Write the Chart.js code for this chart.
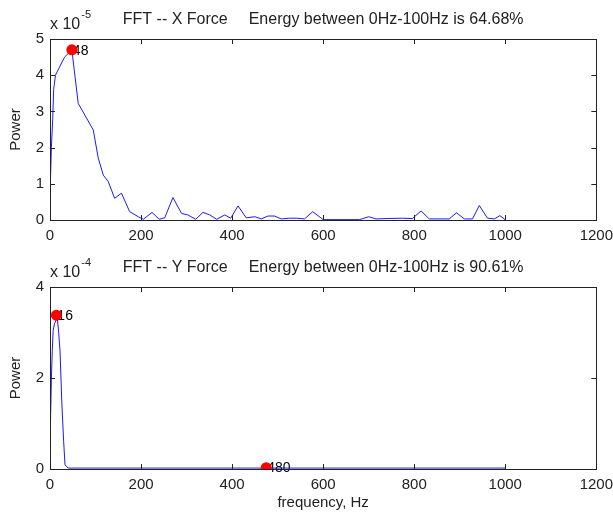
<!DOCTYPE html>
<html>
<head>
<meta charset="utf-8">
<script src="https://cdn.jsdelivr.net/npm/chart.js@4.4.1/dist/chart.umd.min.js"></script>
<style>
  html, body { margin: 0; padding: 0; background: #fff; }
  .panel { position: absolute; left: 0; width: 613px; }
</style>
</head>
<body>
<div class="panel" style="top:0; height:245px;"><canvas id="fftX" width="613" height="245"></canvas></div>
<div class="panel" style="top:245px; height:267px;"><canvas id="fftY" width="613" height="267"></canvas></div>
<script>
// X force spectrum (power in units of 1e-5)
const freqX = [0, 1, 3, 6, 8, 12, 20, 32, 48, 62, 95, 106, 117, 128, 142, 157, 175, 194, 205, 224, 240, 252, 270, 289, 303, 320, 336, 351, 366, 384, 397, 413, 431, 450, 464, 479, 493, 508, 526, 541, 559, 577, 596, 600, 680, 700, 716, 740, 774, 796, 815, 833, 877, 893, 910, 928, 943, 961, 976, 988, 998, 1000];
const powerX = [0.4, 1.1, 2.0, 2.8, 3.6, 4.0, 4.2, 4.5, 4.7, 3.22, 2.49, 1.71, 1.24, 1.06, 0.6, 0.74, 0.23, 0.09, 0.02, 0.21, 0.02, 0.06, 0.62, 0.18, 0.14, 0.02, 0.21, 0.14, 0.02, 0.14, 0.05, 0.39, 0.06, 0.09, 0.03, 0.11, 0.11, 0.03, 0.05, 0.05, 0.03, 0.23, 0.05, 0.01, 0.01, 0.09, 0.03, 0.04, 0.05, 0.04, 0.25, 0.03, 0.03, 0.2, 0.03, 0.03, 0.4, 0.05, 0.03, 0.12, 0.03, 0.0];
const peakX = [{ x: 48, y: 4.7, label: '48' }];

// Y force spectrum (power in units of 1e-4)
const freqY = [0, 1, 3, 5, 7, 10, 16, 19, 22, 26, 30, 33, 40, 200, 400, 600, 800, 1000];
const powerY = [0.35, 1.0, 1.96, 2.6, 3.05, 3.2, 3.32, 3.0, 2.6, 1.45, 0.6, 0.09, 0.02, 0.02, 0.02, 0.02, 0.02, 0.02];
const peakY = [{ x: 14, y: 3.38, label: '16' }, { x: 475, y: 0.03, label: '480' }];

const xTicks = { min: 0, max: 1200, step: 200 };
const FONT = '"Liberation Sans", Arial, sans-serif';
const INK = '#222';

// box, inward ticks, title, exponent and peak labels (MATLAB look)
const matlabFrame = {
  id: 'matlabFrame',
  beforeDatasetsDraw(chart, args, opts) {
    const ctx = chart.ctx;
    ctx.save();
    ctx.font = '14px ' + FONT;
    ctx.fillStyle = '#000';
    ctx.textAlign = 'left';
    ctx.textBaseline = 'middle';
    opts.peaks.forEach(p => {
      ctx.fillText(p.label, chart.scales.x.getPixelForValue(p.x) + 1, chart.scales.y.getPixelForValue(p.y) + 1);
    });
    ctx.restore();
  },
  afterDraw(chart, args, opts) {
    const ctx = chart.ctx;
    const a = chart.chartArea;
    const sx = chart.scales.x, sy = chart.scales.y;
    ctx.save();
    ctx.strokeStyle = INK;
    ctx.lineWidth = 1;
    ctx.beginPath();
    sx.ticks.forEach(t => {
      const px = Math.round(sx.getPixelForValue(t.value)) + 0.5;
      if (t.value === sx.min || t.value === sx.max) return;
      ctx.moveTo(px, a.bottom); ctx.lineTo(px, a.bottom - 5);
      ctx.moveTo(px, a.top); ctx.lineTo(px, a.top + 5);
    });
    sy.ticks.forEach(t => {
      const py = Math.round(sy.getPixelForValue(t.value)) + 0.5;
      if (t.value === sy.min || t.value === sy.max) return;
      ctx.moveTo(a.left, py); ctx.lineTo(a.left + 5, py);
      ctx.moveTo(a.right, py); ctx.lineTo(a.right - 5, py);
    });
    ctx.stroke();
    ctx.strokeRect(Math.round(a.left) + 0.5, Math.round(a.top) + 0.5, Math.round(a.right - a.left), Math.round(a.bottom - a.top));

    ctx.fillStyle = INK;
    ctx.font = '16px ' + FONT;
    ctx.textBaseline = 'middle';
    ctx.textAlign = 'left';
    // title in two pieces so the wide gap survives
    const w1 = ctx.measureText(opts.title[0]).width;
    const w2 = ctx.measureText(opts.title[1]).width;
    const gap = 21;
    const start = (a.left + a.right) / 2 - (w1 + gap + w2) / 2;
    ctx.fillText(opts.title[0], start, a.top - 19);
    ctx.fillText(opts.title[1], start + w1 + gap, a.top - 19);
    // exponent
    ctx.fillText('x 10', a.left, a.top - 14);
    const wx = ctx.measureText('x 10').width;
    ctx.font = '11px ' + FONT;
    ctx.fillText(opts.exponent, a.left + wx + 1, a.top - 24);
    ctx.restore();
  }
};

function makePanel(id, freq, power, peaks, yMax, yStep, title, exponent, padTop, xHeight, xTitle) {
  const ctx = document.getElementById(id).getContext('2d');
  return new Chart(ctx, {
    type: 'line',
    data: {
      datasets: [
        {
          data: peaks,
          showLine: false,
          pointRadius: 5.5,
          pointBackgroundColor: '#ff0000',
          pointBorderColor: '#ff0000',
          pointBorderWidth: 0,
          order: 0
        },
        {
          data: freq.map((f, i) => ({ x: f, y: power[i] })),
          borderColor: '#1a1aff',
          borderWidth: 1,
          pointRadius: 0,
          tension: 0,
          order: 1
        }
      ]
    },
    options: {
      responsive: false,
      animation: false,
      events: [],
      layout: { padding: { left: 0, right: 16, top: padTop, bottom: 0 } },
      scales: {
        x: {
          type: 'linear',
          min: xTicks.min,
          max: xTicks.max,
          // tick marks are drawn by the plugin; tickLength only spaces the labels
          grid: { display: false, drawTicks: true, tickLength: 7 },
          border: { display: false },
          ticks: {
            stepSize: xTicks.step, padding: 0, color: INK, font: { family: FONT, size: 15 }, maxRotation: 0,
            callback: v => String(v)
          },
          title: { display: !!xTitle, text: xTitle || '', color: INK, font: { family: FONT, size: 15 }, padding: { top: 0, bottom: 0 } },
          afterFit(scale) { scale.height = xHeight; }
        },
        y: {
          min: 0,
          max: yMax,
          grid: { display: false, drawTicks: true, tickLength: 6 },
          border: { display: false },
          ticks: { stepSize: yStep, padding: 0, color: INK, font: { family: FONT, size: 15 } },
          title: { display: true, text: 'Power', color: INK, font: { family: FONT, size: 15 }, padding: { top: 7, bottom: 0 } },
          afterFit(scale) { scale.width = 50; }
        }
      },
      plugins: {
        legend: { display: false },
        tooltip: { enabled: false },
        matlabFrame: { title: title, exponent: exponent, peaks: peaks }
      }
    },
    plugins: [matlabFrame]
  });
}

makePanel('fftX', freqX, powerX, peakX, 5, 1,
  ['FFT -- X Force', 'Energy between 0Hz-100Hz is 64.68%'], '-5', 39, 25, null);
makePanel('fftY', freqY, powerY, peakY, 4, 2,
  ['FFT -- Y Force', 'Energy between 0Hz-100Hz is 90.61%'], '-4', 42, 43, 'frequency, Hz');
</script>
</body>
</html>
